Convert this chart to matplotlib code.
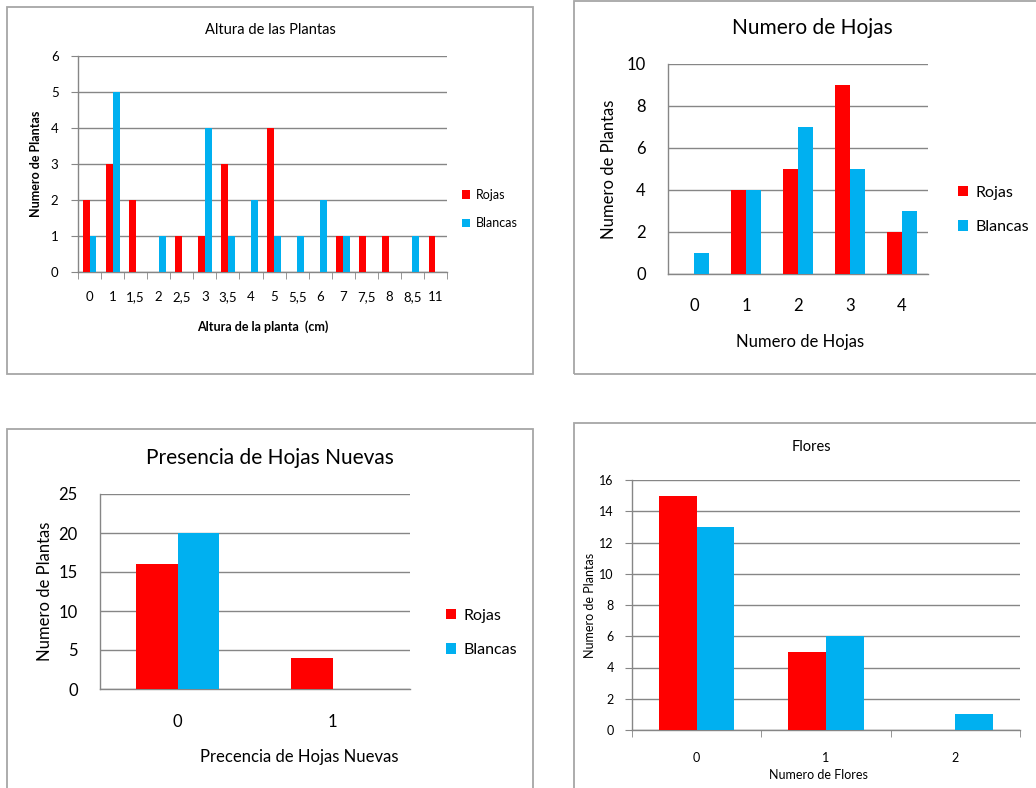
"""Cuatro graficos de barras: plantas rojas vs blancas."""

import matplotlib
matplotlib.use("Agg")
import matplotlib.pyplot as plt
from matplotlib.patches import Rectangle
import numpy as np

W, H = 1036, 788
RED = "#FF0000"
BLUE = "#00B0F0"
GRID = "#868686"
BOX = "#A6A6A6"

plt.rcParams["font.family"] = ["Lato", "DejaVu Sans"]

# Altura de las plantas
altura_cats = ["0", "1", "1,5", "2", "2,5", "3", "3,5", "4", "5", "5,5",
               "6", "7", "7,5", "8", "8,5", "11"]
altura_rojas = [2, 3, 2, 0, 1, 1, 3, 0, 4, 0, 0, 1, 1, 1, 0, 1]
altura_blancas = [1, 5, 0, 1, 0, 4, 1, 2, 1, 1, 2, 1, 0, 0, 1, 0]

# Numero de hojas
hojas_cats = ["0", "1", "2", "3", "4"]
hojas_rojas = [0, 4, 5, 9, 2]
hojas_blancas = [1, 4, 7, 5, 3]

# Presencia de hojas nuevas
nuevas_cats = ["0", "1"]
nuevas_rojas = [16, 4]
nuevas_blancas = [20, 0]

# Flores
flores_cats = ["0", "1", "2"]
flores_rojas = [15, 5, 0]
flores_blancas = [13, 6, 1]


def px(x, y):
    return x / W, 1 - y / H


def make_axes(fig, left, top, right, bottom):
    x0, y0 = px(left, bottom)
    return fig.add_axes([x0, y0, (right - left) / W, (bottom - top) / H])


def bar_chart(ax, cats, rojas, blancas, ymax, ystep, width, fs,
              ytick_len=0, xtick_len=0, ypad=12, xpad=18):
    x = np.arange(len(cats))
    bars_r = ax.bar(x - width / 2, rojas, width, color=RED, label="Rojas", zorder=3)
    bars_b = ax.bar(x + width / 2, blancas, width, color=BLUE, label="Blancas", zorder=3)
    ax.set_xlim(-0.5, len(cats) - 0.5)
    ax.set_ylim(0, ymax)
    ax.set_yticks(np.arange(0, ymax + 0.01, ystep))
    ax.set_xticks(x)
    ax.set_xticklabels(cats)
    ax.yaxis.grid(True, color=GRID, lw=1, zorder=0)
    ax.set_axisbelow(True)
    for s in ("top", "right"):
        ax.spines[s].set_visible(False)
    for s in ("left", "bottom"):
        ax.spines[s].set_color(GRID)
        ax.spines[s].set_linewidth(1)
    ax.tick_params(axis="y", length=ytick_len, color=GRID, labelsize=fs,
                   pad=ypad, labelcolor="black")
    ax.tick_params(axis="x", which="major", length=0, labelsize=fs,
                   pad=xpad, labelcolor="black")
    if xtick_len:
        ax.set_xticks(np.arange(-0.5, len(cats)), minor=True)
        ax.tick_params(axis="x", which="minor", length=xtick_len, color=GRID)
    return bars_r, bars_b


def side_legend(ax, fig, x, y, fs, spacing):
    ax.legend(loc="center left", bbox_to_anchor=px(x, y),
              bbox_transform=fig.transFigure, frameon=False, fontsize=fs,
              handlelength=0.65, handleheight=0.65, handletextpad=0.45,
              labelspacing=spacing, borderaxespad=0, borderpad=0)


fig = plt.figure(figsize=(W / 100, H / 100), dpi=100)

# chart frames
for (l, t, r, b) in [(7, 7, 533, 374), (574, 1, 1040, 374),
                     (7, 429, 533, 800), (574, 423, 1040, 800)]:
    x0, y0 = px(l, b)
    fig.add_artist(Rectangle((x0, y0), (r - l) / W, (b - t) / H,
                             transform=fig.transFigure, fill=False,
                             ec=BOX, lw=1.3))

# 1) Altura de las Plantas
ax1 = make_axes(fig, 78, 56, 447, 272)
bar_chart(ax1, altura_cats, altura_rojas, altura_blancas, 6, 1, 0.3, 9.5,
          ytick_len=5, xtick_len=5, ypad=9, xpad=14)
fig.text(*px(270, 30), "Altura de las Plantas", ha="center", va="center", fontsize=10.5)
fig.text(*px(36, 164), "Numero de Plantas", ha="center", va="center",
         rotation=90, fontsize=9, fontweight="bold")
fig.text(*px(263, 327), "Altura de la planta  (cm)", ha="center", va="center",
         fontsize=9, fontweight="bold")
side_legend(ax1, fig, 462, 209, 9, 1.3)

# 2) Numero de Hojas
ax2 = make_axes(fig, 668, 64, 928, 274)
bar_chart(ax2, hojas_cats, hojas_rojas, hojas_blancas, 10, 2, 0.29, 12,
          ypad=16, xpad=17)
fig.text(*px(812, 28), "Numero de Hojas", ha="center", va="center", fontsize=15)
fig.text(*px(609, 169), "Numero de Plantas", ha="center", va="center",
         rotation=90, fontsize=12)
fig.text(*px(800, 342), "Numero de Hojas", ha="center", va="center", fontsize=12)
side_legend(ax2, fig, 958, 210, 11.5, 1.3)

# 3) Presencia de Hojas Nuevas
ax3 = make_axes(fig, 100, 494, 410, 689)
bar_chart(ax3, nuevas_cats, nuevas_rojas, nuevas_blancas, 25, 5, 0.27, 12,
          ypad=16, xpad=18)
fig.text(*px(270, 458), "Presencia de Hojas Nuevas", ha="center", va="center",
         fontsize=15)
fig.text(*px(45, 591), "Numero de Plantas", ha="center", va="center",
         rotation=90, fontsize=12)
fig.text(*px(299, 757), "Precencia de Hojas Nuevas", ha="center", va="center",
         fontsize=12)
side_legend(ax3, fig, 446, 633, 11.5, 1.3)

# 4) Flores
ax4 = make_axes(fig, 632, 480, 1020, 730)
bar_chart(ax4, flores_cats, flores_rojas, flores_blancas, 16, 2, 0.29, 9,
          ytick_len=5, xtick_len=5, ypad=8, xpad=16)
fig.text(*px(811, 447), "Flores", ha="center", va="center", fontsize=10.5)
fig.text(*px(590, 605), "Numero de Plantas", ha="center", va="center",
         rotation=90, fontsize=9)
fig.text(*px(818, 775), "Numero de Flores", ha="center", va="center", fontsize=9)

fig.savefig("out.png", dpi=100)
